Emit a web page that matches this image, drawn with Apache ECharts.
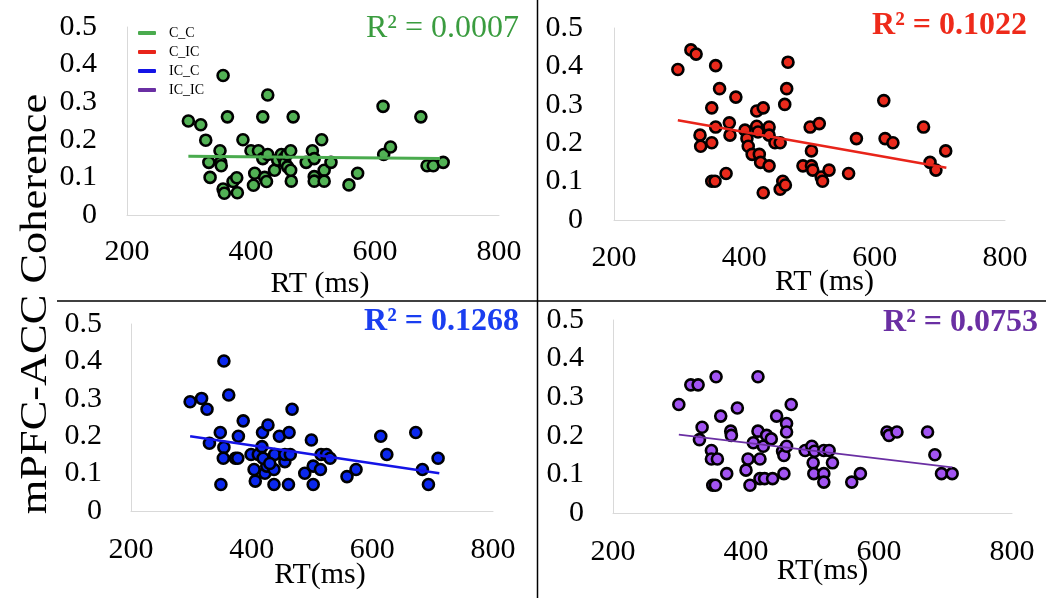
<!DOCTYPE html>
<html>
<head>
<meta charset="utf-8">
<script src="https://cdn.jsdelivr.net/npm/echarts@6/dist/echarts.min.js"></script>
<style>html,body{margin:0;padding:0;background:#fff}#c{width:1050px;height:598px}</style>
</head>
<body>
<div id="c"></div>
<script>
// ---- data ----
const xTicks = [200, 400, 600, 800];
const yTicks = [0, 0.1, 0.2, 0.3, 0.4, 0.5];
const groups = ['C_C', 'C_IC', 'IC_C', 'IC_IC'];
const r2Labels = ['R² = 0.0007', 'R² = 0.1022', 'R² = 0.1268', 'R² = 0.0753'];

const ccRT = [299,319,327,332,334,350,351,352,355,355,357,362,371,377,378,387,400,404,406,412,419,419,422,425,427,427,438,443,449,453,455,458,459,464,465,464,468,489,499,502,502,502,514,518,518,529,558,572,613,614,625,674,684,694,710];
const ccCoh = [0.250,0.240,0.199,0.140,0.100,0.171,0.140,0.131,0.371,0.069,0.058,0.261,0.089,0.099,0.059,0.200,0.171,0.079,0.111,0.171,0.261,0.150,0.100,0.089,0.319,0.161,0.119,0.146,0.161,0.150,0.139,0.161,0.128,0.171,0.090,0.119,0.261,0.140,0.171,0.150,0.102,0.090,0.200,0.119,0.090,0.140,0.080,0.111,0.289,0.161,0.181,0.261,0.131,0.131,0.140];

const cicRT = [298,318,326,332,333,350,350,350,355,356,356,362,372,377,378,387,401,404,406,412,419,419,421,423,425,429,429,438,438,438,447,455,455,459,463,462,465,467,490,501,503,503,505,515,518,520,530,560,572,614,616,628,675,685,694,709];
const cicCoh = [0.392,0.443,0.432,0.221,0.192,0.292,0.201,0.101,0.101,0.402,0.242,0.342,0.121,0.253,0.221,0.320,0.234,0.212,0.192,0.171,0.284,0.244,0.229,0.171,0.150,0.292,0.071,0.242,0.221,0.141,0.201,0.201,0.080,0.101,0.091,0.301,0.342,0.411,0.141,0.242,0.180,0.141,0.130,0.251,0.112,0.101,0.130,0.121,0.212,0.311,0.212,0.201,0.242,0.150,0.130,0.180];

const iccRT = [298,317,326,330,348,349,354,354,353,362,373,377,378,386,399,404,406,411,417,418,422,425,427,437,437,438,446,455,455,462,461,464,467,488,499,502,502,514,515,524,530,558,573,614,624,672,683,693,709,419,430];
const iccCoh = [0.292,0.301,0.272,0.181,0.210,0.071,0.401,0.170,0.141,0.310,0.141,0.141,0.200,0.241,0.151,0.111,0.080,0.151,0.172,0.210,0.101,0.120,0.230,0.111,0.071,0.151,0.200,0.132,0.151,0.210,0.071,0.151,0.272,0.101,0.190,0.120,0.071,0.111,0.151,0.151,0.141,0.092,0.111,0.200,0.151,0.210,0.111,0.071,0.141,0.141,0.127];

const icicRT = [299,317,328,334,330,348,348,357,350,354,355,362,371,377,378,387,400,403,406,411,418,418,421,421,426,428,431,438,440,446,455,457,457,461,461,461,468,489,499,501,502,503,517,517,517,525,530,559,572,612,615,627,673,684,694,710];
const icicCoh = [0.281,0.332,0.332,0.222,0.190,0.162,0.140,0.140,0.072,0.072,0.353,0.251,0.102,0.212,0.201,0.272,0.111,0.140,0.072,0.182,0.353,0.212,0.140,0.089,0.173,0.089,0.201,0.192,0.089,0.251,0.160,0.149,0.102,0.232,0.210,0.173,0.281,0.162,0.173,0.130,0.102,0.160,0.162,0.102,0.080,0.162,0.130,0.080,0.102,0.210,0.201,0.210,0.210,0.151,0.102,0.102];

// trend line end points
const trendRT = [[299,705],[298,710],[298,711],[299,710]];
const trendCoh = [[0.156,0.150],[0.260,0.136],[0.200,0.101],[0.203,0.118]];

const rtArrays = [ccRT, cicRT, iccRT, icicRT];
const cohArrays = [ccCoh, cicCoh, iccCoh, icicCoh];

// ---- styles / layout ----
const FONT = 'Liberation Serif';
const fillColors = ['#52b255', '#ea2a1c', '#0b28ef', '#a254f2'];
const lineColors = ['#4aab4e', '#e8241a', '#1414e6', '#6a2fa3'];
const lineWidths = [3, 2.6, 2.6, 1.7];
const r2Colors = ['#3a9c3f', '#ee2a1a', '#1a3ef0', '#6a2fa3'];
const r2Bold = ['normal', 'bold', 'bold', 'bold'];
const r2Pos = [[519, 29], [1027, 26], [519, 322], [1038, 323]];
const grids = [
  {left: 127, top: 27, width: 372, height: 188},
  {left: 614, top: 28, width: 391, height: 192},
  {left: 131, top: 324, width: 362, height: 187},
  {left: 613, top: 320, width: 399, height: 193}
];
const xNames = ['RT (ms)', 'RT (ms)', 'RT(ms)', 'RT(ms)'];
const xLabelMargin = [22, 23, 24, 24];
const xNameGap = [54, 47, 49, 43];
const xNamePad = [[0,0,0,14],[0,0,0,30],[0,0,0,16],[0,0,0,20]];
const yLabelMargin = [30, 31, 29, 29];

const xAxes = [], yAxes = [], series = [], graphics = [];
for (let i = 0; i < 4; i++) {
  xAxes.push({
    gridIndex: i, type: 'value', min: xTicks[0], max: xTicks[xTicks.length-1], interval: 200,
    axisLine: {show: true, lineStyle: {color: '#d9d9d9', width: 1}},
    axisTick: {show: false}, splitLine: {show: false},
    axisLabel: {fontFamily: FONT, fontSize: 30, color: '#000', margin: xLabelMargin[i]},
    name: xNames[i], nameLocation: 'middle', nameGap: xNameGap[i], nameMoveOverlap: false,
    nameTextStyle: {fontFamily: FONT, fontSize: 30, color: '#000', padding: xNamePad[i]}
  });
  yAxes.push({
    gridIndex: i, type: 'value', min: yTicks[0], max: yTicks[yTicks.length-1], interval: 0.1,
    axisLine: {show: true, lineStyle: {color: '#d9d9d9', width: 1}},
    axisTick: {show: false}, splitLine: {show: false},
    axisLabel: {fontFamily: FONT, fontSize: 30, color: '#000', margin: yLabelMargin[i],
      formatter: v => v === 0 ? '0' : v.toFixed(1)}
  });
  series.push({
    name: groups[i] + ' points', type: 'scatter', xAxisIndex: i, yAxisIndex: i,
    data: rtArrays[i].map((x, k) => [x, cohArrays[i][k]]),
    symbol: 'circle', symbolSize: 11,
    itemStyle: {color: fillColors[i], borderColor: '#000', borderWidth: 2.6, opacity: 1},
    z: 2, silent: true
  });
  series.push({
    name: groups[i], type: 'line', xAxisIndex: i, yAxisIndex: i,
    data: trendRT[i].map((x, k) => [x, trendCoh[i][k]]),
    showSymbol: false, symbol: 'none',
    lineStyle: {color: lineColors[i], width: lineWidths[i]},
    itemStyle: {color: lineColors[i]},
    z: 3, silent: true
  });
  graphics.push({
    type: 'text', x: r2Pos[i][0], y: r2Pos[i][1],
    style: {text: r2Labels[i], fill: r2Colors[i], font: r2Bold[i] + ' 32px "' + FONT + '"',
      textAlign: 'right', textVerticalAlign: 'middle'}
  });
}
// divider lines
graphics.push({type: 'line', shape: {x1: 537.5, y1: 0, x2: 537.5, y2: 598}, style: {stroke: '#000', lineWidth: 1.5}});
graphics.push({type: 'line', shape: {x1: 57, y1: 301, x2: 1046, y2: 301}, style: {stroke: '#000', lineWidth: 1.5}});
// shared y title
graphics.push({
  type: 'text', x: 36, y: 304, rotation: Math.PI / 2, scaleX: 1.2,
  style: {text: 'mPFC-ACC Coherence', fill: '#000', font: '37px "' + FONT + '"',
    textAlign: 'center', textVerticalAlign: 'middle'}
});

const chart = echarts.init(document.getElementById('c'), null, {renderer: 'canvas'});
chart.setOption({
  animation: false,
  backgroundColor: '#fff',
  grid: grids,
  xAxis: xAxes,
  yAxis: yAxes,
  legend: {
    data: groups, orient: 'vertical', left: 133, top: 21, itemWidth: 18, itemHeight: 4,
    itemGap: 5, icon: 'roundRect', selectedMode: false,
    textStyle: {fontFamily: FONT, fontSize: 14, color: '#000', padding: [0, 0, 0, 8]}
  },
  series: series,
  graphic: graphics
});
</script>
</body>
</html>
